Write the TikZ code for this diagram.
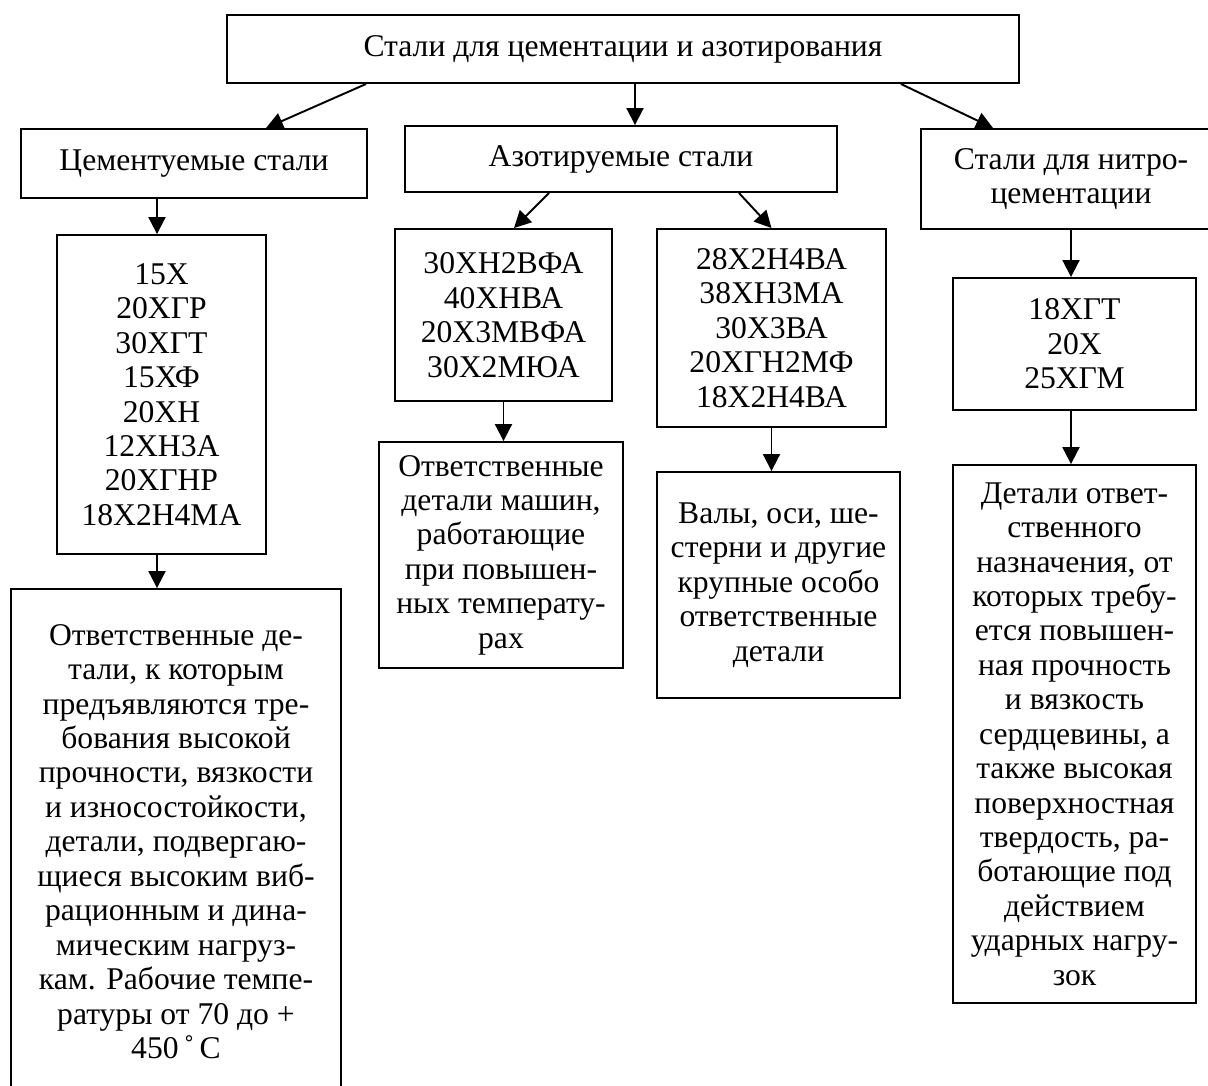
\documentclass[tikz,border=0pt]{standalone}
\usepackage{fontspec}
\setmainfont{Liberation Serif}
\usetikzlibrary{arrows.meta}

\begin{document}
\begin{tikzpicture}[x=0.02cm, y=-0.02cm,
    box/.style={draw, line width=1.1pt, align=center, inner sep=2pt,
      font=\fontsize{18}{19.6}\selectfont},
    arr/.style={line width=1.1pt, -{Triangle[length=0.34cm, width=0.34cm]}}]

  \useasboundingbox (0,0) rectangle (1208,1086);

  \node[box, minimum width=15.84cm, minimum height=1.36cm] (top) at (623,49)
    {Стали для цементации и азотирования};

  \node[box, minimum width=6.92cm, minimum height=1.38cm] (cem) at (194,163.5)
    {Цементуемые стали};
  \node[box, minimum width=8.64cm, minimum height=1.32cm] (azot) at (621,159)
    {Азотируемые стали};
  \node[box, minimum width=6.0cm, minimum height=2.0cm] (nitro) at (1071,179)
    {Стали для нитро-\\цементации};

  \node[box, minimum width=4.18cm, minimum height=6.38cm] (cemgr) at (161.5,394.5)
    {15Х\\20ХГР\\30ХГТ\\15ХФ\\20ХН\\12ХН3А\\20ХГНР\\18Х2Н4МА};
  \node[box, minimum width=6.6cm, minimum height=10.1cm] (cemuse) at (176,841.5)
    {Ответственные де-\\тали, к которым\\предъявляются тре-\\бования высокой\\прочности, вязкости\\и износостойкости,\\детали, подвергаю-\\щиеся высоким виб-\\рационным и дина-\\мическим нагруз-\\кам. Рабочие темпе-\\ратуры от 70 до +\\450\,˚\,С};

  \node[box, minimum width=4.34cm, minimum height=3.44cm] (azgrA) at (503.5,315)
    {30ХН2ВФА\\40ХНВА\\20Х3МВФА\\30Х2МЮА};
  \node[box, minimum width=4.58cm, minimum height=3.96cm] (azgrB) at (771.5,328)
    {28Х2Н4ВА\\38ХН3МА\\30Х3ВА\\20ХГН2МФ\\18Х2Н4ВА};
  \node[box, minimum width=4.88cm, minimum height=4.52cm] (azuseA) at (501,555)
    {Ответственные\\детали машин,\\работающие\\при повышен-\\ных температу-\\рах};
  \node[box, minimum width=4.86cm, minimum height=4.52cm] (azuseB) at (778.5,585)
    {Валы, оси, ше-\\стерни и другие\\крупные особо\\ответственные\\детали};

  \node[box, minimum width=4.86cm, minimum height=2.64cm] (nitgr) at (1074.5,344)
    {18ХГТ\\20Х\\25ХГМ};
  \node[box, minimum width=4.86cm, minimum height=10.76cm] (nituse) at (1074.5,734)
    {Детали ответ-\\ственного\\назначения, от\\которых требу-\\ется повышен-\\ная прочность\\и вязкость\\сердцевины, а\\также высокая\\поверхностная\\твердость, ра-\\ботающие под\\действием\\ударных нагру-\\зок};

  \draw[arr] ([xshift=2.8cm]top.south west) -- ([xshift=1.44cm]cem.north);
  \draw[arr] ([xshift=0.24cm]top.south) -- ([xshift=0.24cm]top.south |- azot.north);
  \draw[arr] ([xshift=-2.38cm]top.south east) -- ([xshift=-1.56cm]nitro.north);

  \draw[arr] ([xshift=-0.09cm]cemgr.north |- cem.south) -- ([xshift=-0.09cm]cemgr.north);
  \draw[arr] ([xshift=-0.09cm]cemgr.south) -- ([xshift=-0.09cm]cemgr.south |- cemuse.north);

  \draw[arr] ([xshift=2.9cm]azot.south west) -- ([xshift=0.21cm]azgrA.north);
  \draw[arr] ([xshift=-1.98cm]azot.south east) -- (azgrB.north);
  \draw[arr] (azgrA.south) -- (azgrA.south |- azuseA.north);
  \draw[arr] (azgrB.south) -- (azgrB.south |- azuseB.north);

  \draw[arr] (nitro.south) -- (nitro.south |- nitgr.north);
  \draw[arr] (nitro.south |- nitgr.south) -- (nitro.south |- nituse.north);

\end{tikzpicture}
\end{document}
